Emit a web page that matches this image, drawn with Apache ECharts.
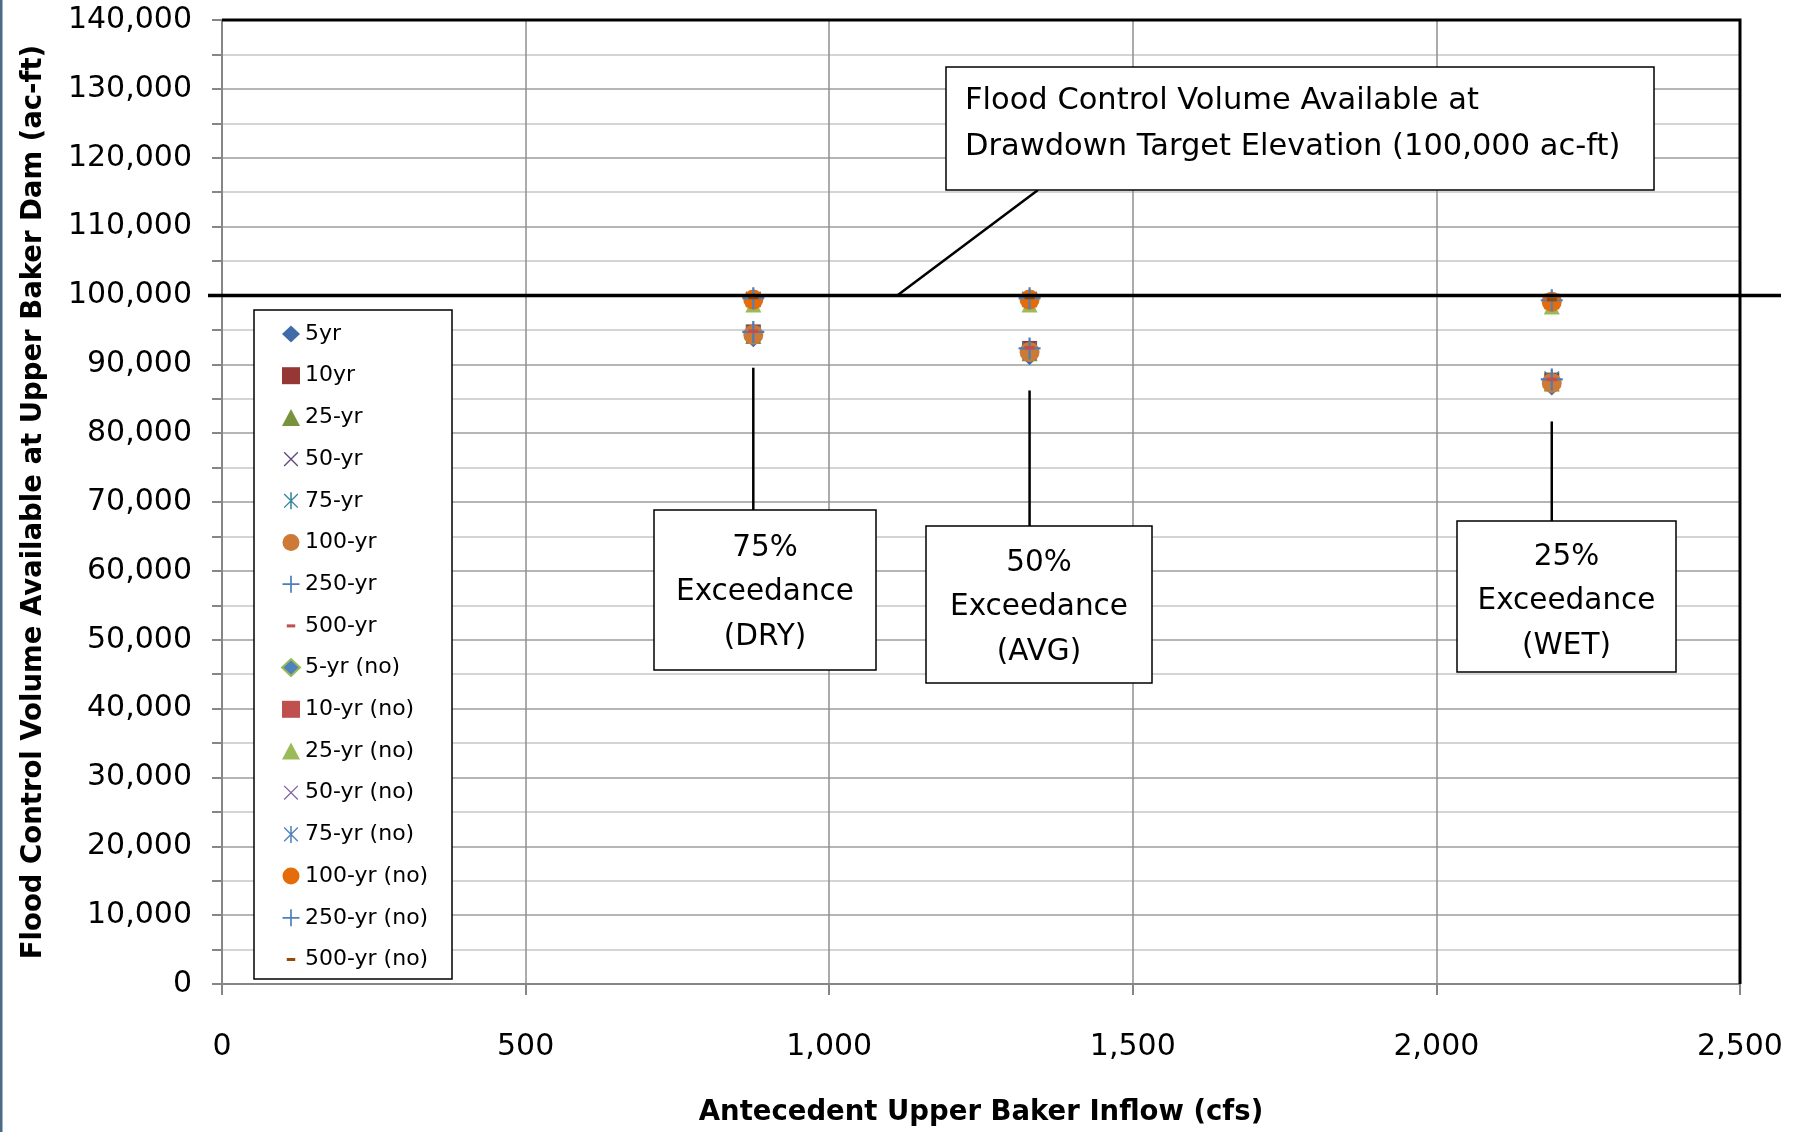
<!DOCTYPE html>
<html>
<head>
<meta charset="utf-8">
<script src="https://cdn.jsdelivr.net/npm/echarts@6/dist/echarts.min.js"></script>
<style>
  html, body { margin: 0; padding: 0; background: #fff; }
  #chart { width: 1802px; height: 1132px; }
</style>
</head>
<body>
<div id="chart"></div>
<script>
// Antecedent inflow for the three exceedance scenarios (cfs)
const inflow = [875, 1330, 2190];
const scenarioLabels = [
  ['75%', 'Exceedance', '(DRY)'],
  ['50%', 'Exceedance', '(AVG)'],
  ['25%', 'Exceedance', '(WET)']
];

// Flood control volume available (ac-ft), one value per scenario
const vol5yr    = [93700, 91100, 86700];
const vol10yr   = [94700, 92300, 87700];
const vol25yr   = [94100, 91600, 87200];
const vol50yr   = [94200, 91700, 87300];
const vol75yr   = [94600, 92200, 87900];
const vol100yr  = [94300, 91800, 87300];
const vol250yr  = [94700, 92300, 87800];
const vol500yr  = [94800, 92400, 87800];
const vol5yrNo   = [99100, 99100, 98800];
const vol10yrNo  = [99400, 99400, 99100];
const vol25yrNo  = [98700, 98700, 98400];
const vol50yrNo  = [99300, 99300, 99000];
const vol75yrNo  = [99500, 99500, 99200];
const vol100yrNo = [99400, 99400, 99100];
const vol250yrNo = [99600, 99600, 99300];
const vol500yrNo = [99700, 99700, 99400];

// Drawdown target volume
const targetVolume = 100000;
const targetLabel = ['Flood Control Volume Available at', 'Drawdown Target Elevation (100,000 ac-ft)'];

const seriesNames = ['5yr', '10yr', '25-yr', '50-yr', '75-yr', '100-yr', '250-yr', '500-yr',
  '5-yr (no)', '10-yr (no)', '25-yr (no)', '50-yr (no)', '75-yr (no)', '100-yr (no)', '250-yr (no)', '500-yr (no)'];
const seriesValues = [vol5yr, vol10yr, vol25yr, vol50yr, vol75yr, vol100yr, vol250yr, vol500yr,
  vol5yrNo, vol10yrNo, vol25yrNo, vol50yrNo, vol75yrNo, vol100yrNo, vol250yrNo, vol500yrNo];

// Marker shapes; custom paths are padded to a 20x20 box so they scale alike
const BOX = 'M-10,-10M10,10';
const SYM_X = 'path://' + BOX + 'M-7.5,-8.6L8.6,7.5L7.5,8.6L-8.6,-7.5ZM7.5,-8.6L8.6,-7.5L-7.5,8.6L-8.6,7.5Z';
const SYM_STAR = 'path://' + BOX + 'M-7.5,-8.6L8.6,7.5L7.5,8.6L-8.6,-7.5ZM7.5,-8.6L8.6,-7.5L-7.5,8.6L-8.6,7.5ZM-0.9,-10h1.8v20h-1.8Z';
const SYM_PLUS = 'path://' + BOX + 'M-1,-10h2v20h-2ZM-10,-1h20v2h-20Z';
const SYM_DASH = 'path://' + BOX + 'M-5,-1.8h10v3.6h-10Z';

const seriesSymbols = ['diamond', 'rect', 'triangle', SYM_X, SYM_STAR, 'circle', SYM_PLUS, SYM_DASH,
  'diamond', 'rect', 'triangle', SYM_X, SYM_STAR, 'circle', SYM_PLUS, SYM_DASH];
const seriesSizes = [17, 15, 16, 17, 18, 20, 22, 20, 17, 15, 16, 17, 18, 20, 22, 20];
const seriesColors = ['#3F6CA8', '#953735', '#77933C', '#5F497A', '#31859C', '#CC7A35', '#4A7EBB', '#C0504D',
  '#4F81BD', '#C0504D', '#9BBB59', '#8064A2', '#4F81BD', '#E46C0A', '#4F81BD', '#984807'];

const FONT = 'DejaVu Sans';
const fmt = v => String(v).replace(/\B(?=(\d{3})+(?!\d))/g, ',');

const chart = echarts.init(document.getElementById('chart'), null, { renderer: 'canvas' });

const series = seriesNames.map((name, i) => ({
  name: name,
  type: 'scatter',
  symbol: seriesSymbols[i],
  symbolSize: seriesSizes[i],
  itemStyle: i === 8
    ? { color: seriesColors[i], borderColor: '#9BBB59', borderWidth: 1.5, opacity: 1 }
    : { color: seriesColors[i], opacity: 1 },
  emphasis: { disabled: true },
  data: inflow.map((x, j) => [x, seriesValues[i][j]])
}));

chart.setOption({
  animation: false,
  backgroundColor: '#ffffff',
  textStyle: { fontFamily: FONT },
  grid: { left: 222, top: 20, right: 62, bottom: 146 },
  xAxis: {
    type: 'value', min: 0, max: 2500, interval: 500,
    name: 'Antecedent Upper Baker Inflow (cfs)',
    nameLocation: 'middle', nameGap: 115,
    nameTextStyle: { fontFamily: FONT, fontWeight: 'bold', fontSize: 27.5, color: '#000' },
    axisLine: { lineStyle: { color: '#868686', width: 2 } },
    axisTick: { length: 11, lineStyle: { color: '#868686', width: 2 } },
    splitLine: { lineStyle: { color: '#8f8f8f', width: 1.5 } },
    axisLabel: { margin: 48, fontSize: 30, color: '#000', fontFamily: FONT, formatter: fmt }
  },
  yAxis: {
    type: 'value', min: 0, max: 140000, interval: 10000,
    name: 'Flood Control Volume Available at Upper Baker Dam (ac-ft)',
    nameLocation: 'middle', nameGap: 174, nameRotate: 90,
    nameTextStyle: { fontFamily: FONT, fontWeight: 'bold', fontSize: 27.5, color: '#000' },
    axisLine: { show: true, lineStyle: { color: '#868686', width: 2 } },
    axisTick: { show: true, length: 10, lineStyle: { color: '#868686', width: 2 } },
    minorTick: { show: true, splitNumber: 2, length: 10, lineStyle: { color: '#868686', width: 2 } },
    splitLine: { lineStyle: { color: '#9c9c9c', width: 1.5 } },
    minorSplitLine: { show: true, lineStyle: { color: '#c6c6c6', width: 1.5 } },
    axisLabel: { margin: 30, fontSize: 30, color: '#000', fontFamily: FONT, formatter: fmt }
  },
  legend: {
    orient: 'vertical', left: 281, top: 323, padding: 0,
    itemWidth: 18, itemHeight: 17, itemGap: 19.7,
    selectedMode: false,
    textStyle: { fontFamily: FONT, fontSize: 22, color: '#000' },
    data: seriesNames
  },
  series: series
});

// Annotations: target line, callout and scenario boxes
function drawAnnotations() {
  const p = (x, y) => chart.convertToPixel({ gridIndex: 0 }, [x, y]);
  const topLeft = p(0, 140000);
  const botRight = p(2500, 0);
  const yTarget = p(0, targetVolume)[1];
  const els = [];

  // frame edge on the left side of the picture
  els.push({ type: 'rect', shape: { x: 0, y: 0, width: 2.5, height: 1132 }, style: { fill: '#4d6a88' }, z: 200 });

  // top and right border of the plot area
  els.push({ type: 'polyline', shape: { points: [[topLeft[0], topLeft[1]], [botRight[0], topLeft[1]], [botRight[0], botRight[1]]] },
    style: { stroke: '#000', lineWidth: 3, fill: null }, z: 150 });

  // legend frame
  els.push({ type: 'rect', shape: { x: 254, y: 310, width: 198, height: 669 },
    style: { fill: '#fff', stroke: '#000', lineWidth: 1.5 }, z: 1 });

  // drawdown target line
  els.push({ type: 'line', shape: { x1: topLeft[0] - 14, y1: yTarget, x2: botRight[0] + 41, y2: yTarget },
    style: { stroke: '#000', lineWidth: 3.5 }, z: 150 });

  // callout for the target line
  const anchor = p(1112, targetVolume);
  els.push({ type: 'line', shape: { x1: anchor[0], y1: anchor[1], x2: 1038, y2: 190 }, style: { stroke: '#000', lineWidth: 2.5 }, z: 150 });
  els.push({ type: 'rect', shape: { x: 946, y: 67, width: 708, height: 123 },
    style: { fill: '#fff', stroke: '#000', lineWidth: 1.5 }, z: 160 });
  targetLabel.forEach((t, k) => {
    els.push({ type: 'text', x: 965, y: 101 + k * 46, z: 161,
      style: { text: t, fontFamily: FONT, fontSize: 30.5, fill: '#000', align: 'left', verticalAlign: 'middle' } });
  });

  // scenario boxes with leader lines
  const boxes = [
    { x: 654, y: 510, w: 222, h: 160, leadTop: 89500, ty: 548 },
    { x: 926, y: 526, w: 226, h: 157, leadTop: 86200, ty: 563 },
    { x: 1457, y: 521, w: 219, h: 151, leadTop: 81700, ty: 557 }
  ];
  boxes.forEach((b, i) => {
    const top = p(inflow[i], b.leadTop);
    els.push({ type: 'line', shape: { x1: top[0], y1: top[1], x2: top[0], y2: b.y },
      style: { stroke: '#000', lineWidth: 2.5 }, z: 150 });
    els.push({ type: 'rect', shape: { x: b.x, y: b.y, width: b.w, height: b.h },
      style: { fill: '#fff', stroke: '#000', lineWidth: 1.5 }, z: 160 });
    scenarioLabels[i].forEach((t, k) => {
      els.push({ type: 'text', x: b.x + b.w / 2, y: b.ty + k * 44.8, z: 161,
        style: { text: t, fontFamily: FONT, fontSize: 29.5, fill: '#000', align: 'center', verticalAlign: 'middle' } });
    });
  });

  chart.setOption({ graphic: { elements: els } });
}
drawAnnotations();
</script>
</body>
</html>
